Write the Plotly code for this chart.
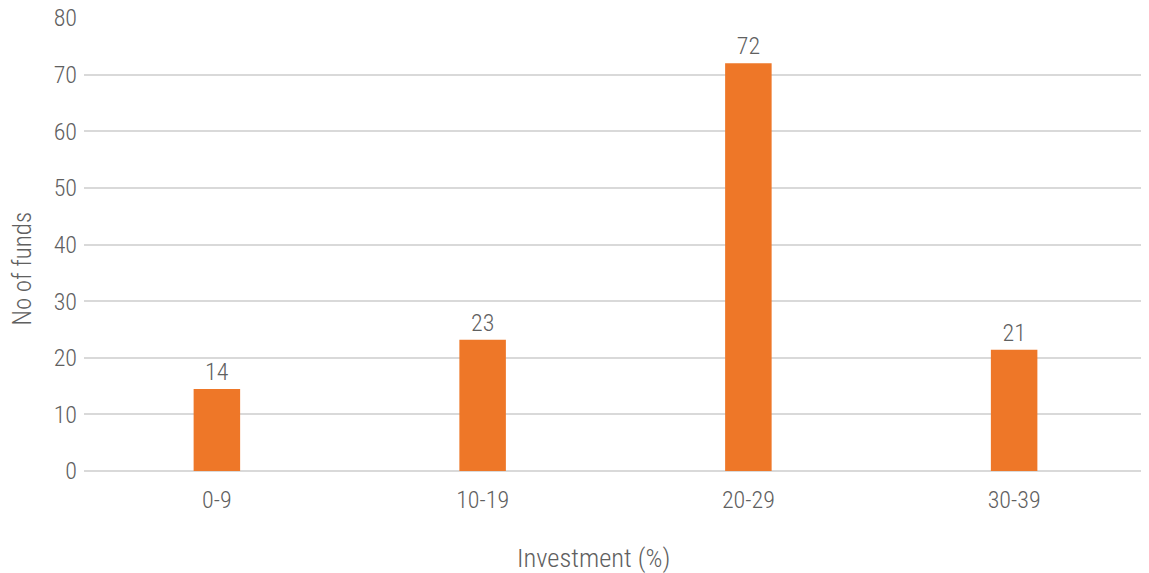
import plotly.graph_objects as go

categories = ["0-9", "10-19", "20-29", "30-39"]
bar_heights = [14.5, 23.2, 72, 21.4]
value_labels = ["14", "23", "72", "21"]
y_ticks = [0, 10, 20, 30, 40, 50, 60, 70, 80]

FONT = "Roboto Condensed, Liberation Sans Narrow, Roboto, sans-serif"
TXT = "#606060"

W, H = 1141, 565
L, R, T, B = 76, 2, 10, 102
pw, ph = W - L - R, H - T - B
Y_MAX = 80

def fnt(size=24):
    return dict(family=FONT, size=size, color=TXT, weight=300)

fig = go.Figure()
fig.add_trace(go.Bar(
    x=categories, y=bar_heights,
    text=value_labels, textposition="outside",
    textfont=fnt(),
    marker=dict(color="#EE7728", line=dict(width=0)),
    cliponaxis=False,
))

fig.update_layout(
    width=W, height=H,
    margin=dict(l=L, r=R, t=T, b=B, autoexpand=False),
    paper_bgcolor="white", plot_bgcolor="white",
    bargap=0.825,
    showlegend=False,
    font=fnt(),
)
fig.update_xaxes(
    showgrid=False, showline=False, zeroline=False,
    tickfont=fnt(), ticks="", ticklabelstandoff=12,
    automargin=False,
)
fig.update_yaxes(
    range=[0, Y_MAX], tickvals=y_ticks,
    showgrid=True, gridcolor="#D9D9D9", gridwidth=1.5,
    zeroline=True, zerolinecolor="#D9D9D9", zerolinewidth=1.5,
    showline=False, ticks="",
    tickfont=fnt(), ticklabelstandoff=6,
    ticklabeloverflow="allow", automargin=False,
)
fig.add_annotation(text="Investment (%)", xref="paper", yref="paper",
                   x=(585 - L) / pw, y=-(549 - (T + ph)) / ph,
                   xanchor="center", yanchor="middle", showarrow=False,
                   font=fnt(26.5))
fig.add_annotation(text="No of funds", xref="paper", yref="paper",
                   x=-(L - 14) / pw, y=((T + ph) - 260.5) / ph,
                   xanchor="center", yanchor="middle", showarrow=False,
                   textangle=-90, font=fnt(25))

fig.write_html("out.html")
